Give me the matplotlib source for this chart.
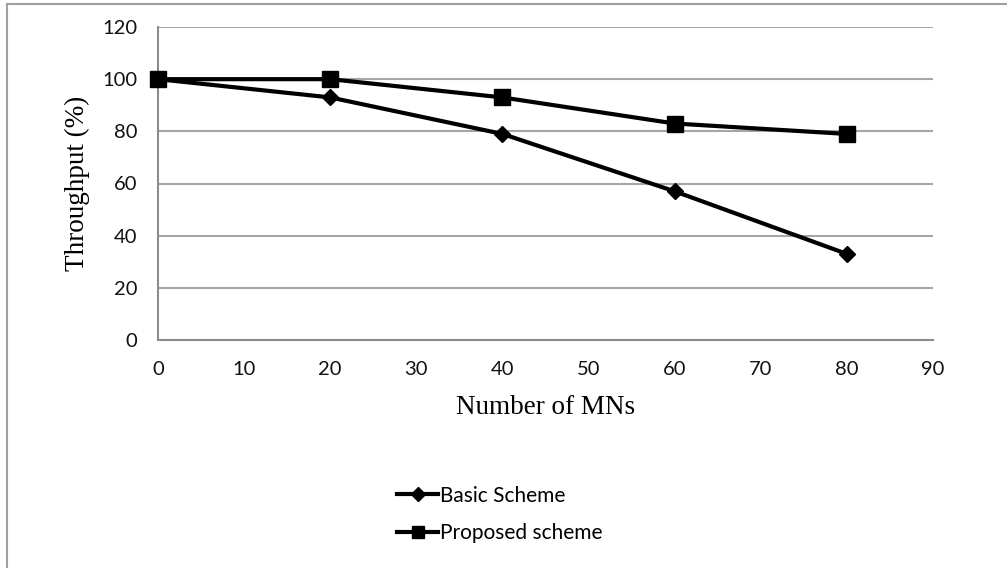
import matplotlib
matplotlib.use("Agg")
import matplotlib.pyplot as plt
from matplotlib.lines import Line2D

x_values = [0, 20, 40, 60, 80]
basic_scheme = [100, 93, 79, 57, 33]
proposed_scheme = [100, 100, 93, 83, 79]
x_ticks = [0, 10, 20, 30, 40, 50, 60, 70, 80, 90]
y_ticks = [0, 20, 40, 60, 80, 100, 120]

W, H = 1007, 568
fig = plt.figure(figsize=(W / 100, H / 100), dpi=100)
ax = fig.add_axes([158 / W, 1 - 340 / H, (933 - 158) / W, (340 - 27) / H])

tick_font = "Lato"
label_font = "Liberation Serif"

ax.plot(x_values, basic_scheme, color="black", lw=3, marker="D", ms=8,
        label="Basic Scheme", zorder=3, clip_on=False)
ax.plot(x_values, proposed_scheme, color="black", lw=3, marker="s", ms=11,
        label="Proposed scheme", zorder=3, clip_on=False)

ax.set_xlim(0, 90)
ax.set_ylim(0, 120)
ax.set_xticks(x_ticks)
ax.set_yticks(y_ticks)
ax.tick_params(length=0, labelsize=14.5)
ax.tick_params(axis="y", pad=15)
ax.tick_params(axis="x", pad=15)
for lab in ax.get_xticklabels() + ax.get_yticklabels():
    lab.set_fontfamily(tick_font)
    lab.set_color("#111111")

ax.yaxis.grid(True, color="#a6a6a6", lw=1.5)
ax.set_axisbelow(True)
for s in ["top", "right"]:
    ax.spines[s].set_visible(False)
for s in ["left", "bottom"]:
    ax.spines[s].set_color("#8c8c8c")
    ax.spines[s].set_linewidth(1.5)

ax.set_xlabel("Number of MNs", fontfamily=label_font, fontsize=19.5, labelpad=12)
ax.set_ylabel("Throughput (%)", fontfamily=label_font, fontsize=19.5, labelpad=9)

handles, labels = ax.get_legend_handles_labels()
leg = fig.legend(handles, labels, loc="upper left", bbox_to_anchor=(378 / W, 1 - 467 / H),
                 frameon=False, prop={"family": tick_font, "size": 15},
                 handlelength=2.0, handletextpad=0.1, labelspacing=0.85,
                 markerscale=0.85)

# outer border (top and left visible)
fig.add_artist(Line2D([7 / W, 1.0], [1 - 4 / H, 1 - 4 / H], color="#a0a0a0", lw=1.5))
fig.add_artist(Line2D([7 / W, 7 / W], [0, 1 - 4 / H], color="#a0a0a0", lw=1.5))

fig.savefig("out.png", dpi=100, facecolor="white")
